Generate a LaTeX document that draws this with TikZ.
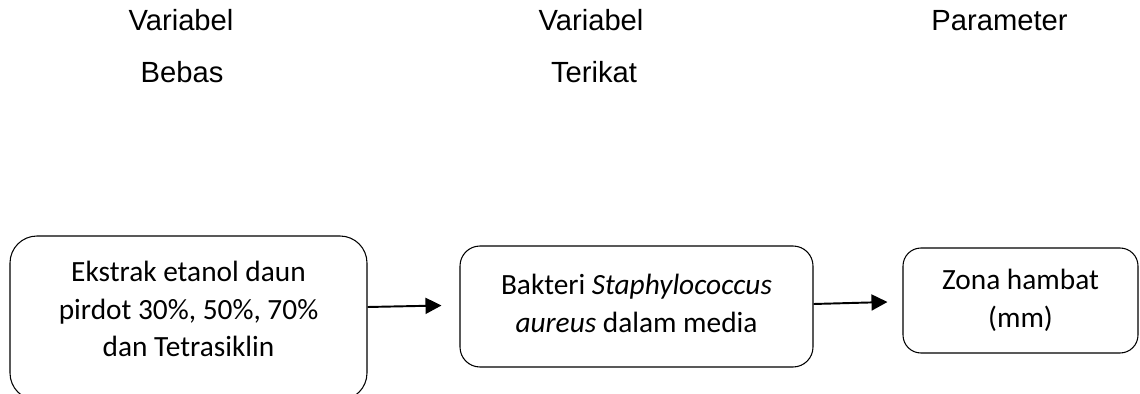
\documentclass[tikz,border=0pt]{standalone}
\usepackage{fontspec}
\setmainfont{Carlito}
\newfontfamily\hdrfont{Liberation Sans}
\usetikzlibrary{positioning}
\usetikzlibrary{arrows.meta}

\begin{document}
\begin{tikzpicture}[
    hdr/.style={font=\hdrfont\fontsize{16.6}{19}\selectfont, inner sep=0pt, anchor=base},
    varbox/.style={draw, line width=0.6pt, align=center, inner sep=0pt,
      font=\fontsize{16.7}{21.5}\selectfont},
    arr/.style={line width=1.1pt, arrows={-Triangle[length=0.32cm,width=0.32cm]}}
  ]
        % Fix the page size
        \useasboundingbox (0,0) rectangle (22.8,-7.88);
        % Column headers
        \node[hdr] (hbebas1) at (3.62,-0.6) {Variabel};
        \node[hdr] (hbebas2) at (3.64,-1.64) {Bebas};
        \node[hdr] (hterikat1) at (11.82,-0.6) {Variabel};
        \node[hdr] (hterikat2) at (11.88,-1.64) {Terikat};
        \node[hdr] (hparam) at (19.99,-0.6) {Parameter};
        % Draw the three boxes
        \node[varbox, rounded corners=0.54cm, minimum width=7.14cm, minimum height=3.28cm,
          text depth=0.36cm]
          (bebas) at (3.77,-6.36) {Ekstrak etanol daun\\pirdot 30\%, 50\%, 70\%\\dan Tetrasiklin};
        \node[varbox, rounded corners=0.4cm, minimum width=7.06cm, minimum height=2.42cm,
          text depth=0.12cm]
          (terikat) at (12.73,-6.13) {Bakteri \textit{Staphylococcus}\\\textit{aureus} dalam media};
        \node[varbox, rounded corners=0.36cm, minimum width=4.7cm, minimum height=2.1cm]
          (param) at (20.41,-6.01) {Zona hambat\\(mm)};
        % Arrows between the boxes
        \draw[arr] ([yshift=-0.01cm]bebas.east |- terikat.west) -- ([xshift=-0.36cm,yshift=0.02cm]terikat.west);
        \draw[arr] ([yshift=0.05cm]terikat.east) -- ([xshift=-0.3cm,yshift=-0.03cm]param.west);
      \end{tikzpicture}
\end{document}
